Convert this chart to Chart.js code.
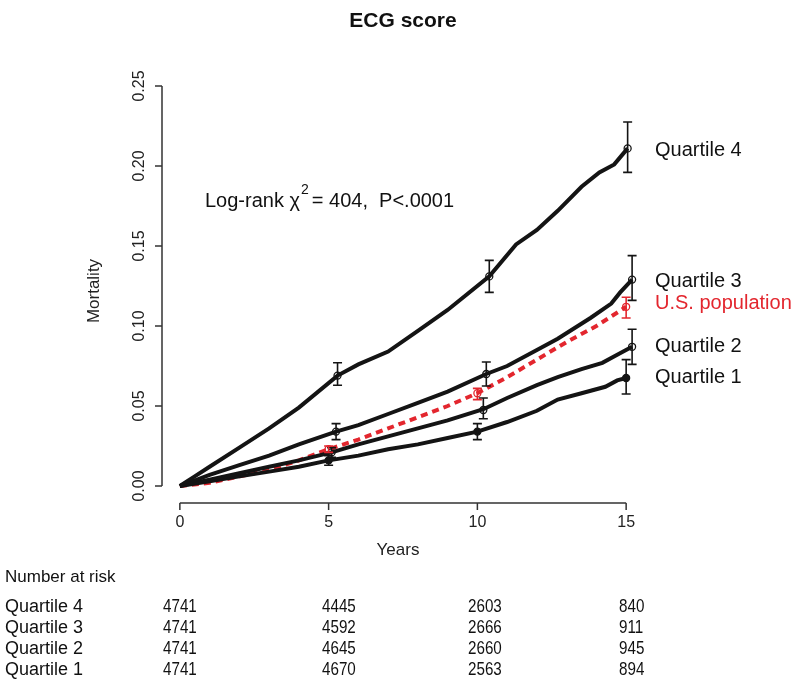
<!DOCTYPE html>
<html lang="en">
<head>
    <meta charset="UTF-8">
    <title>ECG score</title>
    <style>
        html, body { margin: 0; padding: 0; background: #fff; }
        canvas { display: block; }
    </style>
</head>
<body>
    <canvas id="km-chart" width="800" height="691"></canvas>
    <script src="https://cdn.jsdelivr.net/npm/chart.js"></script>
    <script>
        // curves (years, cumulative mortality)
        const q4Years = [0, 0.5, 1, 2, 3, 4, 5.3, 6, 7, 8, 9, 10.4, 11.3, 12, 12.7, 13.5, 14.1, 14.6, 15.05];
        const q4Mort  = [0, 0.006, 0.012, 0.024, 0.036, 0.049, 0.069, 0.076, 0.084, 0.097, 0.110, 0.131, 0.151, 0.160, 0.172, 0.187, 0.196, 0.201, 0.211];
        const q3Years = [0, 1, 2, 3, 4, 5.25, 6, 7, 8, 9, 10.3, 11, 12, 12.7, 13.8, 14.5, 14.8, 15.2];
        const q3Mort  = [0, 0.007, 0.013, 0.019, 0.026, 0.034, 0.038, 0.045, 0.052, 0.059, 0.070, 0.075, 0.085, 0.092, 0.105, 0.114, 0.121, 0.129];
        const usYears = [0, 1, 2, 3, 4, 5, 6, 7, 8, 9, 10, 11, 12, 13, 14, 15];
        const usMort  = [0, 0.002, 0.006, 0.010, 0.016, 0.023, 0.029, 0.036, 0.043, 0.050, 0.058, 0.068, 0.079, 0.090, 0.100, 0.112];
        const q2Years = [0, 1, 2, 3, 4, 5.1, 6, 7, 8, 9, 10.2, 11, 12, 12.7, 13.5, 14.2, 14.7, 15.2];
        const q2Mort  = [0, 0.004, 0.008, 0.012, 0.016, 0.021, 0.026, 0.031, 0.036, 0.041, 0.048, 0.055, 0.063, 0.068, 0.073, 0.077, 0.082, 0.087];
        const q1Years = [0, 1, 2, 3, 4, 5, 6, 7, 8, 9, 10, 11, 12, 12.7, 13.5, 14.3, 14.7, 15];
        const q1Mort  = [0, 0.003, 0.006, 0.009, 0.012, 0.016, 0.019, 0.023, 0.026, 0.030, 0.034, 0.040, 0.047, 0.054, 0.058, 0.062, 0.066, 0.0675];

        // marks with confidence bars: [year, estimate, lower, upper]
        const q4Bars = [[5.3, 0.069, 0.063, 0.077], [10.4, 0.131, 0.121, 0.141], [15.05, 0.211, 0.196, 0.2275]];
        const q3Bars = [[5.25, 0.034, 0.029, 0.039], [10.3, 0.070, 0.0625, 0.0775], [15.2, 0.129, 0.116, 0.144]];
        const q2Bars = [[5.1, 0.021, 0.018, 0.024], [10.2, 0.0475, 0.042, 0.055], [15.2, 0.087, 0.076, 0.098]];
        const q1Bars = [[5.0, 0.016, 0.013, 0.019], [10.0, 0.034, 0.029, 0.039], [15.0, 0.0675, 0.0575, 0.079]];
        const usBars = [[5.0, 0.023, 0.021, 0.025], [10.0, 0.058, 0.054, 0.061], [15.0, 0.112, 0.105, 0.118]];

        const xTicks = [0, 5, 10, 15];
        const yTicks = [0, 0.05, 0.10, 0.15, 0.20, 0.25];

        const groupNames = ['Quartile 4', 'Quartile 3', 'Quartile 2', 'Quartile 1'];
        const riskYears = [0, 5, 10, 15];
        const riskQ4 = [4741, 4445, 2603, 840];
        const riskQ3 = [4741, 4592, 2666, 911];
        const riskQ2 = [4741, 4645, 2660, 945];
        const riskQ1 = [4741, 4670, 2563, 894];

        const BLACK = '#141414';
        const RED = '#e3262e';
        const FONT = '"Liberation Sans", Arial, sans-serif';

        function pts(xs, ys) {
            return xs.map((x, i) => ({ x: x, y: ys[i] }));
        }
        function marks(bars) {
            return bars.map(b => ({ x: b[0], y: b[1] }));
        }

        function curve(label, xs, ys, color, dash) {
            return {
                type: 'line', label: label, data: pts(xs, ys),
                borderColor: color, borderWidth: 4, borderDash: dash || [],
                pointRadius: 0, tension: 0, fill: false
            };
        }
        function markSet(label, bars, color, filled) {
            return {
                type: 'scatter', label: label, data: marks(bars),
                borderColor: color, backgroundColor: filled ? color : 'rgba(0,0,0,0)',
                borderWidth: 1.3, pointRadius: 3.5
            };
        }

        const allBars = [
            { bars: q4Bars, color: BLACK }, { bars: q3Bars, color: BLACK },
            { bars: q2Bars, color: BLACK }, { bars: q1Bars, color: BLACK },
            { bars: usBars, color: RED }
        ];

        // R style axes, error bars, labels and risk table
        const decorations = {
            id: 'decorations',
            afterDatasetsDraw(chart) {
                const ctx = chart.ctx;
                const xs = chart.scales.x, ys = chart.scales.y;
                const area = chart.chartArea;
                ctx.save();

                // error bars
                allBars.forEach(g => {
                    ctx.strokeStyle = g.color;
                    ctx.lineWidth = 1.6;
                    g.bars.forEach(b => {
                        const px = xs.getPixelForValue(b[0]);
                        const lo = ys.getPixelForValue(b[2]);
                        const hi = ys.getPixelForValue(b[3]);
                        ctx.beginPath();
                        ctx.moveTo(px, lo); ctx.lineTo(px, hi);
                        ctx.moveTo(px - 4.5, lo); ctx.lineTo(px + 4.5, lo);
                        ctx.moveTo(px - 4.5, hi); ctx.lineTo(px + 4.5, hi);
                        ctx.stroke();
                    });
                });

                // axes
                ctx.strokeStyle = '#333';
                ctx.lineWidth = 1.5;
                ctx.fillStyle = '#222';
                const axX = area.left, axY = area.bottom + 1;
                ctx.beginPath();
                ctx.moveTo(axX, ys.getPixelForValue(yTicks[0]));
                ctx.lineTo(axX, ys.getPixelForValue(yTicks[yTicks.length - 1]));
                yTicks.forEach(t => {
                    const py = ys.getPixelForValue(t);
                    ctx.moveTo(axX, py); ctx.lineTo(axX - 7, py);
                });
                ctx.moveTo(xs.getPixelForValue(xTicks[0]), axY);
                ctx.lineTo(xs.getPixelForValue(xTicks[xTicks.length - 1]), axY);
                xTicks.forEach(t => {
                    const px = xs.getPixelForValue(t);
                    ctx.moveTo(px, axY); ctx.lineTo(px, axY + 7);
                });
                ctx.stroke();

                ctx.font = '16px ' + FONT;
                ctx.textAlign = 'center';
                ctx.textBaseline = 'middle';
                xTicks.forEach(t => {
                    ctx.fillText(String(t), xs.getPixelForValue(t), axY + 20);
                });
                yTicks.forEach(t => {
                    ctx.save();
                    ctx.translate(axX - 22, ys.getPixelForValue(t));
                    ctx.rotate(-Math.PI / 2);
                    ctx.fillText(t.toFixed(2), 0, 0);
                    ctx.restore();
                });

                // axis titles
                ctx.font = '17px ' + FONT;
                ctx.fillText('Years', 398, 550);
                ctx.save();
                ctx.translate(94, 291);
                ctx.rotate(-Math.PI / 2);
                ctx.fillText('Mortality', 0, 0);
                ctx.restore();

                // main title
                ctx.font = 'bold 21px ' + FONT;
                ctx.fillStyle = '#111';
                ctx.fillText('ECG score', 403, 21);

                // log-rank annotation
                ctx.font = '20px ' + FONT;
                ctx.textAlign = 'left';
                ctx.fillStyle = '#111';
                let tx = 205;
                const ty = 201;
                const part1 = 'Log-rank \u03C7';
                ctx.fillText(part1, tx, ty);
                tx += ctx.measureText(part1).width + 1;
                ctx.font = '14px ' + FONT;
                ctx.fillText('2', tx, ty - 11);
                tx += ctx.measureText('2').width + 3;
                ctx.font = '20px ' + FONT;
                ctx.fillText('= 404,  P<.0001', tx, ty);

                // series labels at right end
                ctx.font = '20px ' + FONT;
                ctx.fillStyle = '#111';
                ctx.fillText('Quartile 4', 655, 150);
                ctx.fillText('Quartile 3', 655, 281);
                ctx.fillText('Quartile 2', 655, 346);
                ctx.fillText('Quartile 1', 655, 377);
                ctx.fillStyle = RED;
                ctx.fillText('U.S. population', 655, 303);

                // number at risk table
                ctx.fillStyle = '#111';
                ctx.font = '17px ' + FONT;
                ctx.fillText('Number at risk', 5, 577);
                const rows = [riskQ4, riskQ3, riskQ2, riskQ1];
                const colX = [163, 322, 468, 619];
                rows.forEach((row, r) => {
                    const ry = 607 + r * 21;
                    ctx.font = '18px ' + FONT;
                    ctx.fillText(groupNames[r], 5, ry);
                    ctx.font = '19px ' + FONT;
                    row.forEach((n, c) => {
                        ctx.save();
                        ctx.translate(colX[c], ry);
                        ctx.scale(0.8, 1);
                        ctx.fillText(String(n), 0, 0);
                        ctx.restore();
                    });
                });

                ctx.restore();
            }
        };

        const ctx = document.getElementById('km-chart').getContext('2d');
        new Chart(ctx, {
            data: {
                datasets: [
                    curve('Quartile 4', q4Years, q4Mort, BLACK),
                    curve('Quartile 3', q3Years, q3Mort, BLACK),
                    curve('Quartile 2', q2Years, q2Mort, BLACK),
                    curve('Quartile 1', q1Years, q1Mort, BLACK),
                    curve('U.S. population', usYears, usMort, RED, [7, 5]),
                    markSet('Q4 marks', q4Bars, BLACK, false),
                    markSet('Q3 marks', q3Bars, BLACK, false),
                    markSet('Q2 marks', q2Bars, BLACK, false),
                    markSet('Q1 marks', q1Bars, BLACK, true),
                    markSet('US marks', usBars, RED, false)
                ]
            },
            options: {
                responsive: false,
                animation: false,
                layout: { padding: { left: 162, right: 156, top: 70, bottom: 189 } },
                plugins: {
                    legend: { display: false },
                    tooltip: { enabled: false }
                },
                scales: {
                    x: { type: 'linear', min: -0.6, max: 15.6, display: false },
                    y: { type: 'linear', min: -0.01, max: 0.26, display: false }
                }
            },
            plugins: [decorations]
        });
    </script>
</body>
</html>
